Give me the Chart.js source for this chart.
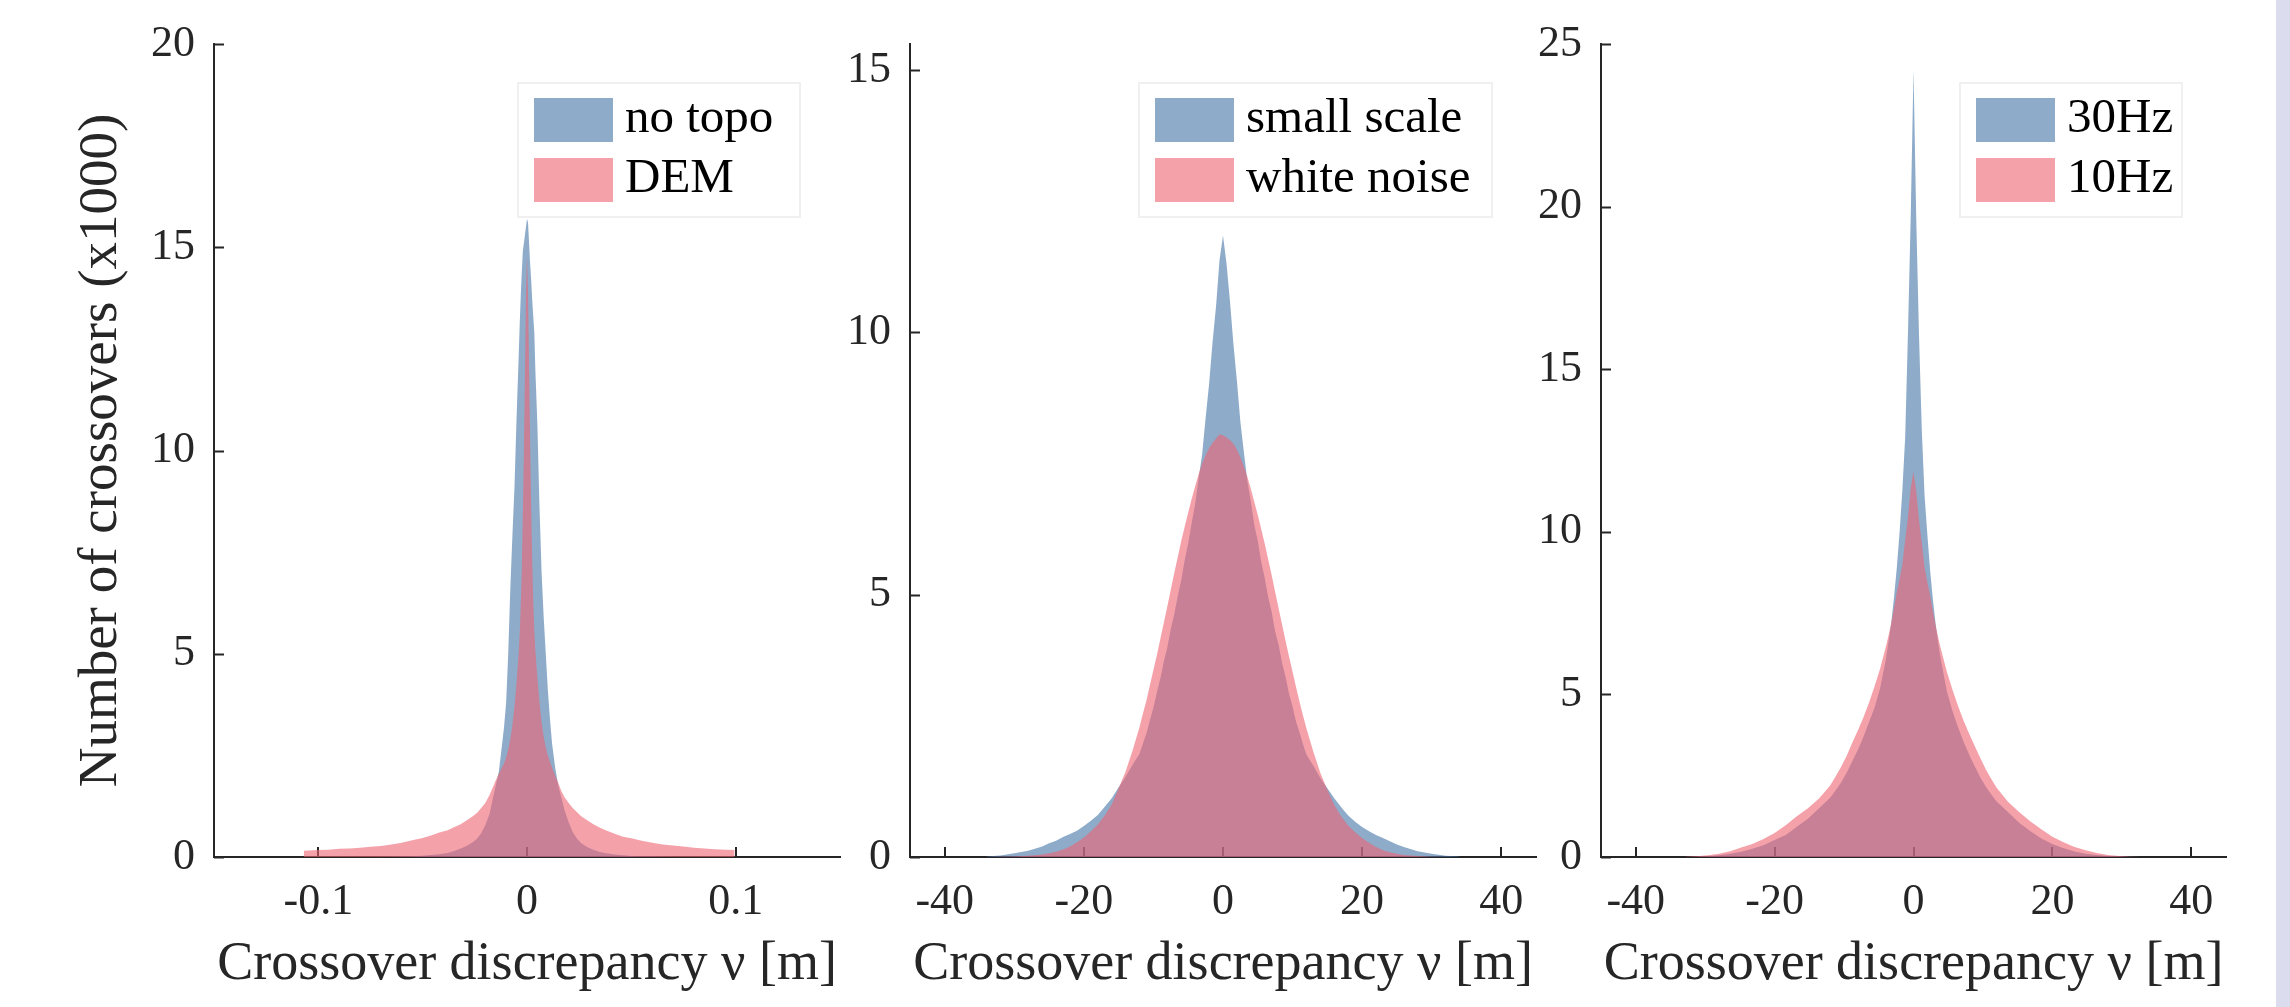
<!DOCTYPE html>
<html lang="en">
<head>
<meta charset="UTF-8">
<title>Crossover discrepancy histograms</title>
<script src="https://cdn.jsdelivr.net/npm/chart.js"></script>
<style>
  html, body { margin: 0; padding: 0; background: #fff; }
  body { width: 2290px; height: 1007px; position: relative; overflow: hidden; }
  .panel { position: absolute; top: 0; height: 1007px; }
  .strip { position: absolute; top: 0; left: 2276px; width: 14px; height: 1007px; background: #dcdcef; }
</style>
</head>
<body>
<div class="panel" style="left:0;width:855px"><canvas id="c1"></canvas></div>
<div class="panel" style="left:820px;width:731px"><canvas id="c2"></canvas></div>
<div class="panel" style="left:1511px;width:760px"><canvas id="c3"></canvas></div>
<div class="strip"></div>
<script>
// --- panel 1: bin centres [m] and counts (x1000)
const p1Centers = [-0.107, -0.1, -0.095, -0.09, -0.085, -0.08, -0.075, -0.07, -0.065, -0.06, -0.055, -0.05,
  -0.046, -0.042, -0.038, -0.035, -0.032, -0.029, -0.026, -0.024, -0.022, -0.02, -0.018, -0.0165, -0.015, -0.0135,
  -0.012, -0.011, -0.01, -0.009, -0.008, -0.007, -0.006, -0.005, -0.004, -0.0035, -0.003, -0.0025, -0.002, -0.0015,
  -0.001, -0.0005, 0, 0.0005, 0.001, 0.0015, 0.002, 0.0025, 0.003, 0.0035, 0.004, 0.005, 0.006, 0.007, 0.008, 0.009,
  0.01, 0.011, 0.012, 0.0135, 0.015, 0.0165, 0.018, 0.02, 0.022, 0.024, 0.026, 0.029, 0.032, 0.035, 0.038, 0.042,
  0.046, 0.05, 0.055, 0.06, 0.065, 0.07, 0.075, 0.08, 0.085, 0.09, 0.095, 0.0995];
const noTopo = [0, 0, 0, 0, 0, 0, 0, 0, 0.005, 0.01, 0.02, 0.03,
  0.05, 0.07, 0.1, 0.15, 0.2, 0.27, 0.36, 0.45, 0.58, 0.78, 1.05, 1.4, 1.75, 2.1,
  2.75, 3.2, 3.8, 5.0, 6.6, 7.9, 9.1, 10.8, 12.3, 13.1, 13.8, 14.4, 14.9, 15.1,
  15.3, 15.5, 15.7, 15.6, 15.1, 14.6, 14.2, 13.7, 13.3, 12.9, 12.0, 10.6, 8.6, 7.0, 5.9, 5.0,
  4.1, 3.4, 2.8, 2.2, 1.75, 1.45, 1.15, 0.85, 0.6, 0.45, 0.34, 0.24, 0.17, 0.12, 0.09, 0.06,
  0.04, 0.025, 0.015, 0.01, 0.005, 0, 0, 0, 0, 0, 0, 0];
const dem = [0.155, 0.17, 0.18, 0.2, 0.21, 0.23, 0.25, 0.27, 0.31, 0.35, 0.41, 0.47,
  0.53, 0.6, 0.66, 0.73, 0.8, 0.9, 1.0, 1.08, 1.2, 1.33, 1.52, 1.7, 1.88, 2.05,
  2.2, 2.3, 2.45, 2.65, 2.9, 3.25, 3.7, 4.3, 5.0, 5.5, 6.2, 7.1, 8.4, 10.0,
  11.8, 13.8, 14.8, 13.9, 12.0, 10.2, 8.6, 7.3, 6.3, 5.6, 5.1, 4.4, 3.8, 3.3, 2.95, 2.7,
  2.5, 2.35, 2.2, 2.0, 1.82, 1.62, 1.47, 1.33, 1.2, 1.1, 1.0, 0.9, 0.8, 0.72, 0.65, 0.57,
  0.5, 0.46, 0.4, 0.35, 0.31, 0.28, 0.26, 0.23, 0.21, 0.19, 0.18, 0.17];
const p1XTicks = [-0.1, 0, 0.1];
const p1YTicks = [0, 5, 10, 15, 20];

// --- panel 2
const p2Centers = [-34, -32, -30, -28, -26, -25, -24, -23, -22, -21, -20, -19, -18, -17, -16, -15, -14, -13,
  -12, -11.5, -11, -10.5, -10, -9.5, -9, -8.5, -8, -7.5, -7, -6.5, -6, -5.5, -5, -4.5, -4, -3.5, -3, -2.5, -2, -1.5,
  -1, -0.5, 0, 0.5, 1, 1.5, 2, 2.5, 3, 3.5, 4, 4.5, 5, 5.5, 6, 6.5, 7, 7.5, 8, 8.5, 9, 9.5, 10, 10.5, 11, 11.5, 12,
  13, 14, 15, 16, 17, 18, 19, 20, 21, 22, 23, 24, 25, 26, 28, 30, 32, 34];
const smallScale = [0.01, 0.03, 0.07, 0.12, 0.2, 0.26, 0.31, 0.38, 0.44, 0.5, 0.59, 0.69, 0.8, 0.96, 1.12, 1.33, 1.53, 1.76,
  1.97, 2.17, 2.36, 2.61, 2.85, 3.14, 3.41, 3.73, 4.0, 4.35, 4.63, 4.98, 5.28, 5.66, 5.98, 6.37, 6.73, 7.22, 7.68, 8.37, 9.02, 9.82,
  10.5, 11.38, 11.85, 11.32, 10.6, 9.78, 9.08, 8.3, 7.72, 7.17, 6.78, 6.33, 6.03, 5.62, 5.32, 4.95, 4.67, 4.3, 4.04, 3.7, 3.43, 3.11,
  2.87, 2.58, 2.38, 2.15, 1.95, 1.74, 1.5, 1.31, 1.12, 0.95, 0.79, 0.67, 0.57, 0.49, 0.42, 0.36, 0.3, 0.24, 0.19, 0.11, 0.06, 0.025, 0.008];
const whiteNoise = [0, 0.003, 0.01, 0.022, 0.05, 0.07, 0.1, 0.145, 0.2, 0.28, 0.37, 0.49, 0.62, 0.79, 1.0, 1.31, 1.63, 2.03,
  2.48, 2.74, 2.99, 3.28, 3.57, 3.85, 4.16, 4.47, 4.78, 5.1, 5.42, 5.72, 6.03, 6.3, 6.57, 6.83, 7.07, 7.3, 7.5, 7.66, 7.8, 7.9,
  7.98, 8.06, 8.04, 8.0, 7.95, 7.88, 7.77, 7.62, 7.45, 7.25, 7.02, 6.77, 6.52, 6.25, 5.97, 5.67, 5.37, 5.05, 4.74, 4.43, 4.12, 3.82,
  3.53, 3.24, 2.96, 2.7, 2.45, 2.0, 1.6, 1.28, 0.99, 0.77, 0.6, 0.47, 0.36, 0.27, 0.19, 0.13, 0.09, 0.06, 0.04, 0.018, 0.007, 0.002, 0];
const p2XTicks = [-40, -20, 0, 20, 40];
const p2YTicks = [0, 5, 10, 15];

// --- panel 3
const p3Centers = [-32.8, -31.2, -29.6, -28, -26.4, -24.8, -23.2, -21.6, -20, -18.4, -16.8, -15.2, -13.6,
  -12, -11.2, -10.4, -9.6, -8.8, -8, -7.2, -6.4, -5.6, -4.8, -4, -3.6, -3.2, -2.8, -2.4, -2, -1.6, -1.2, -0.8, -0.4,
  0, 0.4, 0.8, 1.2, 1.6, 2, 2.4, 2.8, 3.2, 3.6, 4, 4.8, 5.6, 6.4, 7.2, 8, 8.8, 9.6, 10.4, 11.2, 12,
  13.6, 15.2, 16.8, 18.4, 20, 21.6, 23.2, 24.8, 26.4, 28, 29.6, 31.2, 32.8];
const hz30 = [0.003, 0.01, 0.025, 0.05, 0.1, 0.16, 0.25, 0.36, 0.52, 0.68, 0.93, 1.18, 1.5,
  1.82, 2.05, 2.3, 2.6, 2.95, 3.3, 3.7, 4.15, 4.6, 5.2, 6.05, 6.6, 7.2, 8.0, 8.9, 10.0, 11.3, 12.9, 16.1, 19.7,
  24.2, 19.6, 16.0, 13.1, 11.1, 9.9, 8.8, 7.9, 7.15, 6.5, 6.0, 5.1, 4.5, 4.0, 3.55, 3.15, 2.8, 2.45, 2.17, 1.92, 1.7,
  1.38, 1.05, 0.8, 0.57, 0.4, 0.27, 0.17, 0.1, 0.06, 0.03, 0.012, 0.004, 0];
const hz10 = [0.01, 0.025, 0.05, 0.1, 0.18, 0.29, 0.4, 0.55, 0.74, 0.98, 1.25, 1.5, 1.8,
  2.2, 2.48, 2.78, 3.12, 3.52, 3.9, 4.3, 4.75, 5.25, 5.8, 6.45, 6.8, 7.2, 7.65, 8.15, 8.55, 9.0, 9.75, 10.45, 11.35,
  11.85, 11.25, 10.35, 9.65, 8.9, 8.45, 8.05, 7.55, 7.1, 6.7, 6.35, 5.7, 5.15, 4.65, 4.2, 3.8, 3.42, 3.05, 2.7, 2.4, 2.12,
  1.7, 1.38, 1.1, 0.85, 0.62, 0.45, 0.31, 0.21, 0.12, 0.06, 0.03, 0.01, 0];
const p3XTicks = [-40, -20, 0, 20, 40];
const p3YTicks = [0, 5, 10, 15, 20, 25];

const xTitle = 'Crossover discrepancy \u03bd [m]';
const yTitle = 'Number of crossovers (x1000)';

const blueFill = 'rgba(67,117,167,0.6)';
const pinkFill = 'rgba(237,98,113,0.6)';
const ink = '#262626';

Chart.defaults.font.family = '"Liberation Serif", "Times New Roman", serif';
Chart.defaults.color = ink;

// MATLAB-style ticks pointing into the plot
const innerTicks = {
  id: 'innerTicks',
  beforeDatasetsDraw(chart) {
    const { ctx, chartArea, scales: { x, y } } = chart;
    ctx.save();
    ctx.strokeStyle = ink;
    ctx.lineWidth = 2;
    ctx.beginPath();
    x.ticks.forEach(t => {
      const px = Math.round(x.getPixelForValue(t.value));
      ctx.moveTo(px, chartArea.bottom);
      ctx.lineTo(px, chartArea.bottom - 10);
    });
    y.ticks.forEach(t => {
      const py = Math.round(y.getPixelForValue(t.value)) + 0.5;
      ctx.moveTo(chartArea.left, py);
      ctx.lineTo(chartArea.left + 10, py);
    });
    ctx.stroke();
    ctx.restore();
  }
};

// legend box inside the top-right corner
const boxLegend = {
  id: 'boxLegend',
  afterDraw(chart, args, opts) {
    const { ctx, chartArea } = chart;
    const sets = chart.data.datasets;
    const right = chartArea.right - opts.right;
    const left = right - opts.width;
    const top = chartArea.top + 39;
    ctx.save();
    ctx.fillStyle = '#fff';
    ctx.fillRect(left, top, opts.width, 134);
    ctx.strokeStyle = '#f0f0f0';
    ctx.lineWidth = 2;
    ctx.strokeRect(left, top, opts.width, 134);
    ctx.font = '49px "Liberation Serif", serif';
    ctx.textBaseline = 'alphabetic';
    sets.forEach((d, i) => {
      const py = top + 15 + i * 60;
      ctx.fillStyle = d.backgroundColor;
      ctx.fillRect(left + 16, py, 79, 44);
      ctx.fillStyle = '#000';
      ctx.fillText(d.label, left + 107, py + 34);
    });
    ctx.restore();
  }
};

function series(centers, vals) {
  return centers.map((x, i) => ({ x, y: vals[i] }));
}

function makePanel(id, cfg) {
  const common = { fill: 'origin', tension: 0, borderWidth: 0, borderColor: 'rgba(0,0,0,0)', pointRadius: 0, pointHoverRadius: 0 };
  new Chart(document.getElementById(id), {
    type: 'line',
    data: {
      datasets: [
        Object.assign({ label: cfg.labels[0], data: series(cfg.centers, cfg.a), backgroundColor: blueFill, order: 1 }, common),
        Object.assign({ label: cfg.labels[1], data: series(cfg.centers, cfg.b), backgroundColor: pinkFill, order: 0 }, common)
      ]
    },
    options: {
      responsive: true,
      maintainAspectRatio: false,
      animation: false,
      events: [],
      layout: { padding: { top: 44, right: cfg.padRight, bottom: 0, left: 0 } },
      plugins: {
        legend: { display: false },
        tooltip: { enabled: false },
        boxLegend: cfg.legend
      },
      scales: {
        x: {
          type: 'linear',
          min: cfg.xMin, max: cfg.xMax,
          grid: { display: true, drawOnChartArea: false, drawTicks: false },
          border: { display: true, color: ink, width: 2 },
          ticks: {
            autoSkip: false, maxRotation: 0,
            padding: 19, font: { size: 44 }, color: ink,
            callback: v => String(+v.toFixed(3))
          },
          afterBuildTicks(s) { s.ticks = cfg.xTicks.map(value => ({ value })); },
          title: { display: true, text: xTitle, font: { size: 54 }, color: ink, padding: { top: 0, bottom: 10 } },
          afterFit(s) { s.height = 150; s.paddingLeft = 0; s.paddingRight = 0; }
        },
        y: {
          min: 0, max: cfg.yMax,
          grid: { display: true, drawOnChartArea: false, drawTicks: false },
          border: { display: true, color: ink, width: 2 },
          ticks: {
            autoSkip: false, padding: 19, font: { size: 44 }, color: ink,
            callback: v => String(v)
          },
          afterBuildTicks(s) { s.ticks = cfg.yTicks.map(value => ({ value })); },
          title: { display: !!cfg.yTitle, text: cfg.yTitle || '', font: { size: 55 }, color: ink, padding: { top: 69, bottom: 0 } },
          afterFit(s) { s.width = cfg.yWidth; s.paddingTop = 0; s.paddingBottom = 0; }
        }
      }
    },
    plugins: [innerTicks, boxLegend]
  });
}

makePanel('c1', {
  centers: p1Centers, a: noTopo, b: dem, labels: ['no topo', 'DEM'],
  xMin: -0.15, xMax: 0.15, xTicks: p1XTicks, yMax: 20, yTicks: p1YTicks, yWidth: 214, padRight: 15,
  yTitle: yTitle, legend: { right: 40, width: 282 }
});
makePanel('c2', {
  centers: p2Centers, a: smallScale, b: whiteNoise, labels: ['small scale', 'white noise'],
  xMin: -45, xMax: 45, xTicks: p2XTicks, yMax: 15.5, yTicks: p2YTicks, yWidth: 90, padRight: 15,
  legend: { right: 44, width: 353 }
});
makePanel('c3', {
  centers: p3Centers, a: hz30, b: hz10, labels: ['30Hz', '10Hz'],
  xMin: -45, xMax: 45, xTicks: p3XTicks, yMax: 25, yTicks: p3YTicks, yWidth: 90, padRight: 45,
  legend: { right: 44, width: 222 }
});
</script>
</body>
</html>
